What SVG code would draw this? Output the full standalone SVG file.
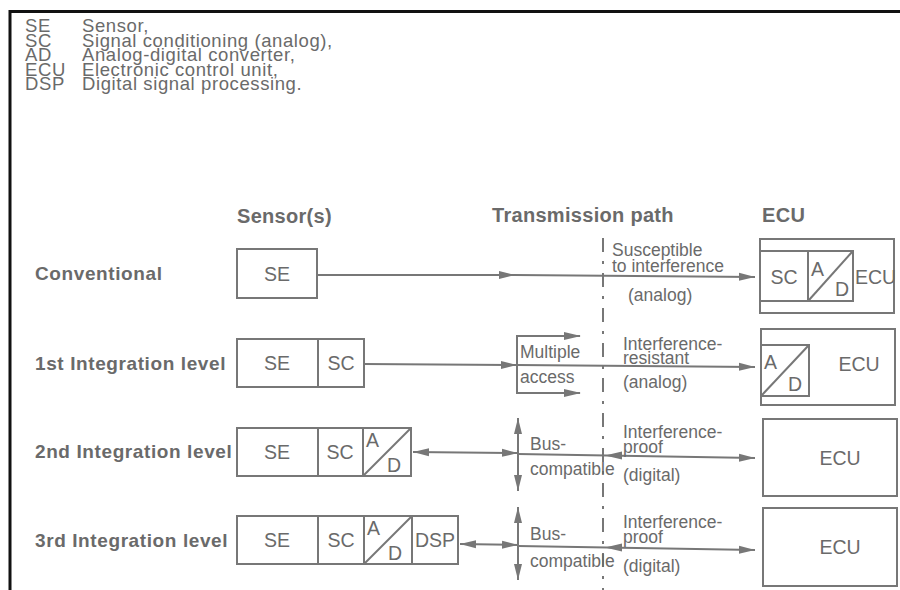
<svg xmlns="http://www.w3.org/2000/svg" width="900" height="590" viewBox="0 0 900 590">
  <style>
    text { font-family: "Liberation Sans", Arial, sans-serif; fill: #6a6a6a; }
    .leg { font-size: 18.5px; letter-spacing: 0.6px; }
    .hdr { font-size: 20px; font-weight: bold; letter-spacing: 0.3px; }
    .row { font-size: 19px; font-weight: bold; letter-spacing: 0.6px; }
    .box { font-size: 19.5px; }
    .sm { font-size: 17.5px; }
    .mid { text-anchor: middle; }
    .bx { fill: #fff; stroke: #777; stroke-width: 2; }
    .ln { fill: none; stroke: #777; stroke-width: 2; }
    .dash { fill: none; stroke: #777; stroke-width: 2; stroke-dasharray: 14 9 3 9; }
    .tri { fill: #777; }
  </style>
  <defs>
    <marker id="ah" markerWidth="17" markerHeight="10" refX="16" refY="5" orient="auto-start-reverse" markerUnits="userSpaceOnUse">
      <path d="M0,1 L16,5 L0,9 z" fill="#777"/>
    </marker>
  </defs>

  <rect width="900" height="590" fill="#fff"/>
  <!-- frame -->
  <path d="M900,11.5 H10 V590" fill="none" stroke="#111" stroke-width="3"/>

  <!-- legend -->
  <g id="legend">
    <text class="leg" x="25" y="32">SE</text><text class="leg" x="82" y="32">Sensor,</text>
    <text class="leg" x="25" y="46.5">SC</text><text class="leg" x="82" y="46.5">Signal conditioning (analog),</text>
    <text class="leg" x="25" y="61">AD</text><text class="leg" x="82" y="61">Analog-digital converter,</text>
    <text class="leg" x="25" y="75.5">ECU</text><text class="leg" x="82" y="75.5">Electronic control unit,</text>
    <text class="leg" x="25" y="90">DSP</text><text class="leg" x="82" y="90">Digital signal processing.</text>
  </g>

  <!-- column headers -->
  <g id="headers">
    <text class="hdr" x="237" y="223">Sensor(s)</text>
    <text class="hdr" x="492" y="222">Transmission path</text>
    <text class="hdr" x="762" y="222">ECU</text>
  </g>

  <!-- row labels -->
  <g id="rowlabels">
    <text class="row" x="35" y="280">Conventional</text>
    <text class="row" x="35" y="370">1st Integration level</text>
    <text class="row" x="35" y="458">2nd Integration level</text>
    <text class="row" x="35" y="547">3rd Integration level</text>
  </g>

  <!-- sensor nodes -->
  <g id="sensor-conventional">
    <rect class="bx" x="237" y="249" width="80" height="49"/>
    <text class="box mid" x="277" y="281">SE</text>
  </g>
  <g id="sensor-level1">
    <rect class="bx" x="237" y="339" width="127" height="48"/>
    <line class="ln" x1="318" y1="339" x2="318" y2="387"/>
    <text class="box mid" x="277" y="370">SE</text>
    <text class="box mid" x="341" y="370">SC</text>
  </g>
  <g id="sensor-level2">
    <rect class="bx" x="237" y="428" width="174" height="48"/>
    <line class="ln" x1="318" y1="428" x2="318" y2="476"/>
    <line class="ln" x1="363" y1="428" x2="363" y2="476"/>
    <line class="ln" x1="363" y1="476" x2="411" y2="428"/>
    <text class="box mid" x="277" y="459">SE</text>
    <text class="box mid" x="340" y="459">SC</text>
    <text class="box" x="366" y="447">A</text>
    <text class="box" x="387" y="472">D</text>
  </g>
  <g id="sensor-level3">
    <rect class="bx" x="237" y="516" width="221" height="48"/>
    <line class="ln" x1="318" y1="516" x2="318" y2="564"/>
    <line class="ln" x1="364" y1="516" x2="364" y2="564"/>
    <line class="ln" x1="412" y1="516" x2="412" y2="564"/>
    <line class="ln" x1="364" y1="564" x2="412" y2="516"/>
    <text class="box mid" x="277" y="547">SE</text>
    <text class="box mid" x="341" y="547">SC</text>
    <text class="box" x="367" y="535">A</text>
    <text class="box" x="388" y="560">D</text>
    <text class="box mid" x="435" y="547">DSP</text>
  </g>

  <!-- ECU nodes -->
  <g id="ecu-conventional">
    <rect class="bx" x="760" y="239" width="134" height="74"/>
    <rect class="bx" x="760" y="251" width="93" height="50"/>
    <line class="ln" x1="808" y1="251" x2="808" y2="301"/>
    <line class="ln" x1="809" y1="300" x2="852" y2="252"/>
    <text class="box mid" x="784" y="284">SC</text>
    <text class="box" x="811" y="276">A</text>
    <text class="box" x="835" y="296">D</text>
    <text class="box" x="855" y="284">ECU</text>
  </g>
  <g id="ecu-level1">
    <rect class="bx" x="761" y="329" width="134" height="76"/>
    <rect class="bx" x="761" y="345" width="48" height="51"/>
    <line class="ln" x1="762" y1="395" x2="808" y2="346"/>
    <text class="box" x="764" y="369">A</text>
    <text class="box" x="788" y="391">D</text>
    <text class="box mid" x="859" y="371">ECU</text>
  </g>
  <g id="ecu-level2">
    <rect class="bx" x="763" y="419" width="134" height="77"/>
    <text class="box mid" x="840" y="465">ECU</text>
  </g>
  <g id="ecu-level3">
    <rect class="bx" x="763" y="508" width="134" height="78"/>
    <text class="box mid" x="840" y="554">ECU</text>
  </g>

  <!-- connectors -->
  <g id="connectors">
    <!-- boundary between transmission path and ECU side -->
    <line class="dash" x1="603" y1="238" x2="603" y2="590"/>

    <!-- conventional -->
    <line class="ln" x1="317" y1="275" x2="515" y2="275" marker-end="url(#ah)"/>
    <line class="ln" x1="515" y1="275" x2="755" y2="277" marker-end="url(#ah)"/>

    <!-- 1st level: multiple access -->
    <line class="ln" x1="364" y1="364" x2="517" y2="365" marker-end="url(#ah)"/>
    <line class="ln" x1="517" y1="365" x2="755" y2="367" marker-end="url(#ah)"/>
    <path class="ln" d="M580,336 H517 V393 H580"/>
    <path class="tri" d="M564,332 L581,336 L564,340 z"/>
    <path class="tri" d="M564,389 L581,393 L564,397 z"/>

    <!-- 2nd level: bus -->
    <line class="ln" x1="413" y1="452" x2="518" y2="453" marker-start="url(#ah)" marker-end="url(#ah)"/>
    <line class="ln" x1="518" y1="418" x2="518" y2="491" marker-start="url(#ah)" marker-end="url(#ah)"/>
    <line class="ln" x1="518" y1="454" x2="755" y2="458" marker-end="url(#ah)"/>
    <path class="tri" d="M605,455.5 L622,451.5 L622,459.5 z"/>

    <!-- 3rd level: bus -->
    <line class="ln" x1="460" y1="544" x2="518" y2="545" marker-start="url(#ah)" marker-end="url(#ah)"/>
    <line class="ln" x1="518" y1="507" x2="518" y2="580" marker-start="url(#ah)" marker-end="url(#ah)"/>
    <line class="ln" x1="518" y1="546" x2="755" y2="550" marker-end="url(#ah)"/>
    <path class="tri" d="M605,547.5 L622,543.5 L622,551.5 z"/>
  </g>

  <!-- transmission labels -->
  <g id="path-labels">
    <text class="sm" x="612" y="256">Susceptible</text>
    <text class="sm" x="612" y="272">to interference</text>
    <text class="sm" x="628" y="301">(analog)</text>

    <text class="sm" x="520" y="358">Multiple</text>
    <text class="sm" x="520" y="383">access</text>
    <text class="sm" x="623" y="350">Interference-</text>
    <text class="sm" x="623" y="364">resistant</text>
    <text class="sm" x="623" y="388">(analog)</text>

    <text class="sm" x="530" y="450">Bus-</text>
    <text class="sm" x="530" y="475">compatible</text>
    <text class="sm" x="623" y="438">Interference-</text>
    <text class="sm" x="623" y="453">proof</text>
    <text class="sm" x="623" y="481">(digital)</text>

    <text class="sm" x="530" y="540">Bus-</text>
    <text class="sm" x="530" y="567">compatible</text>
    <text class="sm" x="623" y="528">Interference-</text>
    <text class="sm" x="623" y="543">proof</text>
    <text class="sm" x="623" y="572">(digital)</text>
  </g>
</svg>
